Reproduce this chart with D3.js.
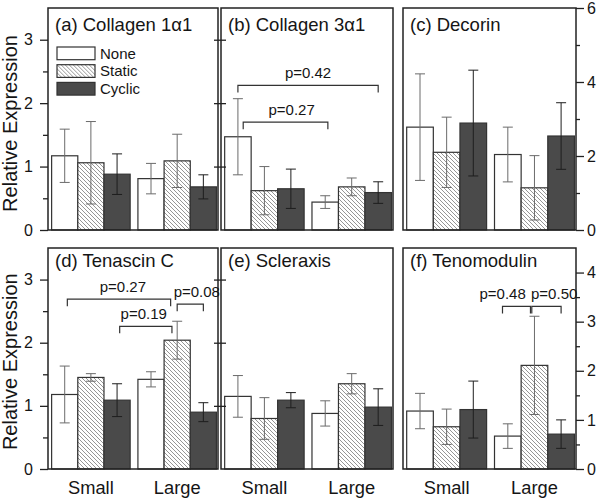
<!DOCTYPE html>
<html>
<head>
<meta charset="utf-8">
<script src="https://cdn.jsdelivr.net/npm/d3@7"></script>
<style>
	body { margin: 0; background: #fff; }
	svg { display: block; font-family: 'Liberation Sans', Arial, sans-serif; }
</style>
</head>
<body>
<svg id="chart" width="600" height="499"></svg>
<script>
// categories
const groups = ['Small', 'Large']
const series = ['None', 'Static', 'Cyclic']

// order: Small None, Small Static, Small Cyclic, Large None, Large Static, Large Cyclic
const collagen1Mean = [1.17, 1.06, 0.88, 0.81, 1.09, 0.68]
const collagen1Err = [0.42, 0.65, 0.32, 0.24, 0.42, 0.19]
const collagen3Mean = [1.47, 0.62, 0.65, 0.44, 0.68, 0.59]
const collagen3Err = [0.6, 0.38, 0.31, 0.1, 0.14, 0.17]
const decorinMean = [2.78, 2.1, 2.89, 2.04, 1.14, 2.54]
const decorinErr = [1.44, 0.95, 1.43, 0.74, 0.87, 0.9]
const tenascinMean = [1.18, 1.45, 1.09, 1.42, 2.04, 0.9]
const tenascinErr = [0.45, 0.06, 0.26, 0.12, 0.3, 0.15]
const scleraxisMean = [1.15, 0.8, 1.09, 0.88, 1.35, 0.98]
const scleraxisErr = [0.33, 0.33, 0.12, 0.2, 0.16, 0.29]
const tenomodulinMean = [1.18, 0.86, 1.21, 0.67, 2.11, 0.71]
const tenomodulinErr = [0.36, 0.36, 0.58, 0.25, 1.0, 0.29]

// significance brackets: from/to = [group index, position in bar widths]
const collagen3Brackets = [
	{ label: 'p=0.42', from: [0, 0.5], to: [1, 2.5], y: 2.28, shift: 0 },
	{ label: 'p=0.27', from: [0, 0.7], to: [1, 0.6], y: 1.7, shift: 0.23 }
]
const tenascinBrackets = [
	{ label: 'p=0.27', from: [0, 0.6], to: [1, 1.25], y: 2.69, shift: 0.15 },
	{ label: 'p=0.19', from: [0, 2.6], to: [1, 1.3], y: 2.26, shift: -0.08 },
	{ label: 'p=0.08', from: [1, 1.5], to: [1, 2.5], y: 2.61, shift: 0.25 }
]
const tenomodulinBrackets = [
	{ label: 'p=0.48', from: [1, 0.3], to: [1, 1.35], y: 3.31, shift: -0.52 },
	{ label: 'p=0.50', from: [1, 1.4], to: [1, 2.5], y: 3.31, shift: 0.29 }
]

// axis ticks
const ticks35 = [0, 1, 2, 3]
const minor35 = [0.5, 1.5, 2.5]
const ticks6 = [0, 2, 4, 6]
const minor6 = [1, 3, 5]
const ticks45 = [0, 1, 2, 3, 4]
const minor45 = [0.5, 1.5, 2.5, 3.5]

const panelTitles = [
	'(a) Collagen 1\u03b11',
	'(b) Collagen 3\u03b11',
	'(c) Decorin',
	'(d) Tenascin C',
	'(e) Scleraxis',
	'(f) Tenomodulin'
]

const COLUMNS = [[48, 218], [221, 393], [403, 576]]
const ROWS = [
	{ top: 8, bottom: 230, titleY: 31, labelY: 123.5 },
	{ top: 248, bottom: 469, titleY: 267, labelY: 361.7 }
]
const FILLS = { None: '#fff', Static: 'url(#hatch)', Cyclic: '#4a4a4a' }
const ERR_COLORS = { None: '#6b6b6b', Static: '#6b6b6b', Cyclic: '#1e1e1e' }
const TEXT = '#151515'
const FRAME = '#222'

const panels = [
	{ title: panelTitles[0], mean: collagen1Mean, err: collagen1Err, yMax: 3.5, col: 0, row: 0, axis: 'left', major: ticks35, minor: minor35, brackets: [], legend: true },
	{ title: panelTitles[1], mean: collagen3Mean, err: collagen3Err, yMax: 3.5, col: 1, row: 0, axis: 'shared', major: ticks35, minor: minor35, brackets: collagen3Brackets },
	{ title: panelTitles[2], mean: decorinMean, err: decorinErr, yMax: 6, col: 2, row: 0, axis: 'right', major: ticks6, minor: minor6, brackets: [] },
	{ title: panelTitles[3], mean: tenascinMean, err: tenascinErr, yMax: 3.5, col: 0, row: 1, axis: 'left', major: ticks35, minor: minor35, brackets: tenascinBrackets },
	{ title: panelTitles[4], mean: scleraxisMean, err: scleraxisErr, yMax: 3.5, col: 1, row: 1, axis: 'shared', major: ticks35, minor: minor35, brackets: [] },
	{ title: panelTitles[5], mean: tenomodulinMean, err: tenomodulinErr, yMax: 4.5, col: 2, row: 1, axis: 'right', major: ticks45, minor: minor45, brackets: tenomodulinBrackets }
]

const svg = d3.select('#chart')

// diagonal hatch for the Static bars
const pattern = svg.append('defs')
	.append('pattern')
	.attr('id', 'hatch')
	.attr('patternUnits', 'userSpaceOnUse')
	.attr('width', 4)
	.attr('height', 4)
pattern.append('rect').attr('width', 4).attr('height', 4).attr('fill', '#fff')
pattern.append('path')
	.attr('d', 'M-1,-1 L5,5 M3,-1 L5,1 M-1,3 L1,5')
	.attr('stroke', '#8a8a8a')
	.attr('stroke-width', 0.9)

function drawAxis(g, p, y, x0, x1) {
	const fmt = d3.format('d')
	const clean = sel => {
		sel.select('.domain').remove()
		sel.selectAll('line').attr('stroke', FRAME).attr('stroke-width', 1.3)
		sel.selectAll('text').attr('font-size', 16).attr('fill', TEXT).attr('font-family', null)
	}
	if (p.axis === 'left') {
		g.append('g').attr('transform', `translate(${x0},0)`)
			.call(d3.axisLeft(y).tickValues(p.major).tickSize(8).tickPadding(7).tickFormat(fmt))
			.call(clean)
		g.append('g').attr('transform', `translate(${x0},0)`)
			.call(d3.axisLeft(y).tickValues(p.minor).tickSize(5).tickFormat(''))
			.call(clean)
	} else if (p.axis === 'right') {
		g.append('g').attr('transform', `translate(${x1},0)`)
			.call(d3.axisRight(y).tickValues(p.major).tickSize(8).tickPadding(3).tickFormat(fmt))
			.call(clean)
		g.append('g').attr('transform', `translate(${x1},0)`)
			.call(d3.axisRight(y).tickValues(p.minor).tickSize(4).tickFormat(''))
			.call(clean)
	} else {
		const major = p.major.filter(d => d > 0)
		g.append('g').attr('transform', `translate(${x0},0)`)
			.call(d3.axisLeft(y).tickValues(major).tickSize(7).tickFormat(''))
			.call(clean)
		g.append('g').attr('transform', `translate(${x0},0)`)
			.call(d3.axisRight(y).tickValues(major).tickSize(5).tickFormat(''))
			.call(clean)
	}
}

function drawPanel(p) {
	const [x0, x1] = COLUMNS[p.col]
	const row = ROWS[p.row]
	const g = svg.append('g').attr('class', 'panel')

	const y = d3.scaleLinear().domain([0, p.yMax]).range([row.bottom, row.top])
	const xGroup = d3.scaleBand()
		.domain(groups)
		.range([x0, x1])
		.paddingInner(0.09)
		.paddingOuter(0.03)
		.align(0.7)
	const xSeries = d3.scaleBand().domain(series).range([0, xGroup.bandwidth()])
	const bw = xSeries.bandwidth()

	const rows = []
	groups.forEach((grp, gi) => {
		series.forEach((s, si) => {
			rows.push({ group: grp, series: s, mean: p.mean[gi * 3 + si], err: p.err[gi * 3 + si] })
		})
	})

	g.selectAll('rect.bar')
		.data(rows)
		.join('rect')
		.attr('class', 'bar')
		.attr('x', d => xGroup(d.group) + xSeries(d.series))
		.attr('y', d => y(d.mean))
		.attr('width', bw)
		.attr('height', d => y(0) - y(d.mean))
		.attr('fill', d => FILLS[d.series])
		.attr('stroke', '#333')
		.attr('stroke-width', 1.2)

	const errs = g.selectAll('g.err')
		.data(rows)
		.join('g')
		.attr('class', 'err')
		.attr('stroke', d => ERR_COLORS[d.series])
		.attr('stroke-width', 1)
	const cx = d => xGroup(d.group) + xSeries(d.series) + bw / 2
	errs.append('line')
		.attr('x1', cx).attr('x2', cx)
		.attr('y1', d => y(d.mean + d.err))
		.attr('y2', d => y(d.mean - d.err))
	errs.selectAll('line.cap')
		.data(d => [{ d, v: d.mean + d.err }, { d, v: d.mean - d.err }])
		.join('line')
		.attr('class', 'cap')
		.attr('x1', c => cx(c.d) - 5)
		.attr('x2', c => cx(c.d) + 5)
		.attr('y1', c => y(c.v))
		.attr('y2', c => y(c.v))

	// frame
	g.append('rect')
		.attr('x', x0)
		.attr('y', row.top)
		.attr('width', x1 - x0)
		.attr('height', row.bottom - row.top)
		.attr('fill', 'none')
		.attr('stroke', FRAME)
		.attr('stroke-width', 1.5)

	drawAxis(g, p, y, x0, x1)

	g.append('text')
		.attr('x', x0 + 7)
		.attr('y', row.titleY)
		.attr('font-size', 18.5)
		.attr('fill', TEXT)
		.text(p.title)

	// brackets
	const bx = ([gi, u]) => xGroup(groups[gi]) + u * bw
	const br = g.selectAll('g.bracket')
		.data(p.brackets)
		.join('g')
		.attr('class', 'bracket')
	br.append('path')
		.attr('d', d => {
			const yy = y(d.y)
			return `M${bx(d.from)},${yy + 7} V${yy} H${bx(d.to)} V${yy + 7}`
		})
		.attr('fill', 'none')
		.attr('stroke', '#333')
		.attr('stroke-width', 1.2)
	br.append('text')
		.attr('x', d => (bx(d.from) + bx(d.to)) / 2 + d.shift * bw)
		.attr('y', d => y(d.y) - 7)
		.attr('text-anchor', 'middle')
		.attr('font-size', 15)
		.attr('fill', TEXT)
		.text(d => d.label)

	if (p.row === 1) {
		g.selectAll('text.xlabel')
			.data(groups)
			.join('text')
			.attr('class', 'xlabel')
			.attr('x', d => xGroup(d) + xGroup.bandwidth() / 2)
			.attr('y', 494)
			.attr('text-anchor', 'middle')
			.attr('font-size', 18.3)
			.attr('fill', TEXT)
			.text(d => d)
	}

	if (p.legend) {
		const leg = g.selectAll('g.legend')
			.data(series)
			.join('g')
			.attr('class', 'legend')
			.attr('transform', (d, i) => `translate(57,${47 + i * 17.7})`)
		leg.append('rect')
			.attr('width', 38)
			.attr('height', 12.7)
			.attr('fill', d => FILLS[d])
			.attr('stroke', '#333')
			.attr('stroke-width', 1.2)
		leg.append('text')
			.attr('x', 43)
			.attr('y', 6.4)
			.attr('dy', '0.35em')
			.attr('font-size', 15)
			.attr('fill', TEXT)
			.text(d => d)
	}
}

panels.forEach(drawPanel)

ROWS.forEach(row => {
	svg.append('text')
		.attr('transform', `translate(17,${row.labelY}) rotate(-90)`)
		.attr('text-anchor', 'middle')
		.attr('font-size', 20)
		.attr('fill', TEXT)
		.text('Relative Expression')
})
</script>
</body>
</html>
